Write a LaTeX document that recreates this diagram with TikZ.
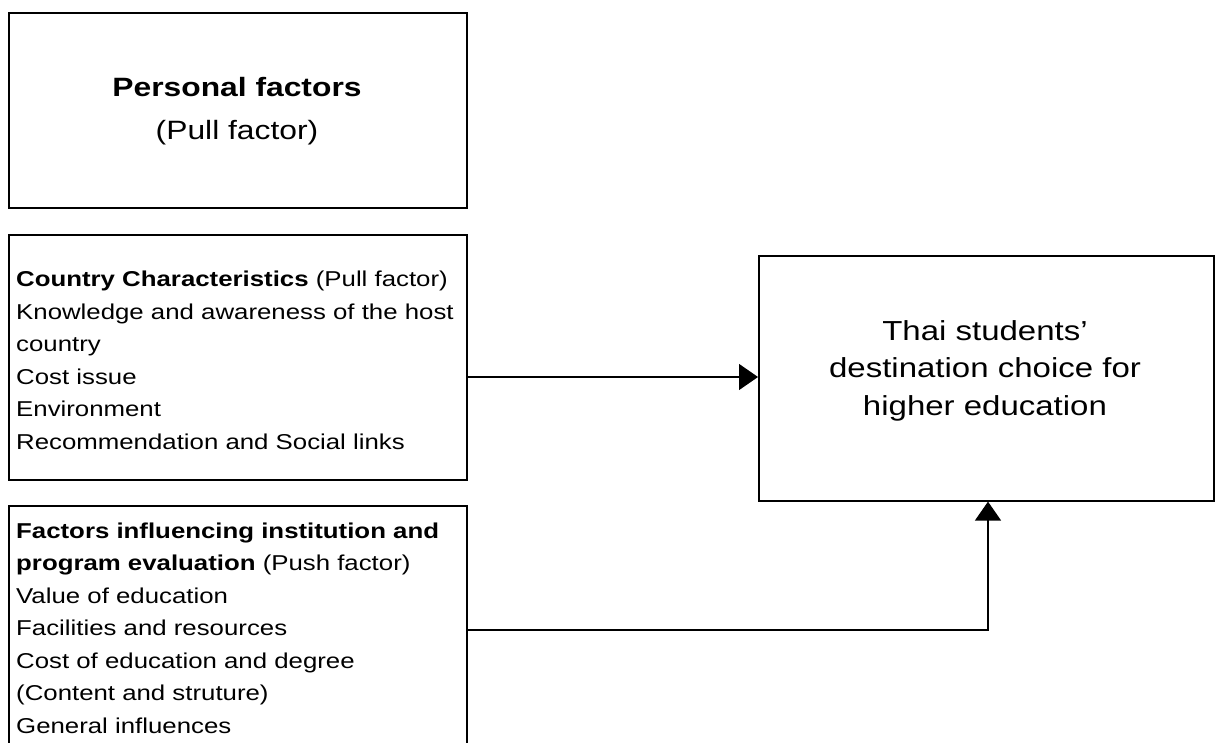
\documentclass[tikz,border=0pt]{standalone}
\usepackage{fontspec}
\setmainfont{Liberation Sans}
\usetikzlibrary{arrows.meta,calc}
\newcommand{\wl}[1]{\scalebox{1.2}[1]{#1}}
\begin{document}
\begin{tikzpicture}[x=1pt,y=-1pt,
  box/.style={draw,line width=1.6pt,inner sep=0pt,anchor=north west},
  txt/.style={inner sep=0pt},
  conn/.style={line width=1.4pt,-{Triangle[width=26pt,length=19pt]}}]
\clip (0,0) rectangle (1216,743);
\fill[white] (0,0) rectangle (1216,743);
% boxes
\node[box,minimum width=458pt,minimum height=195pt] (b1) at (8,12) {};
\node[box,minimum width=458pt,minimum height=245pt] (b2) at (8,234) {};
\node[box,minimum width=458pt,minimum height=300pt] (b3) at (8,505) {};
\node[box,minimum width=455pt,minimum height=245pt] (goal) at (758,255) {};
% texts
\node[txt,anchor=base,align=center,font=\fontsize{26.5}{43}\selectfont] (t1) at (237,140)
  {\textbf{\wl{Personal factors}}\\\wl{(Pull factor)}};
\node[txt,anchor=base west,align=left,font=\fontsize{21.5}{32.5}\selectfont] (t2) at (16,449)
  {\wl{\textbf{Country Characteristics} (Pull factor)}\\
   \wl{Knowledge and awareness of the host}\\
   \wl{country}\\
   \wl{Cost issue}\\
   \wl{Environment}\\
   \wl{Recommendation and Social links}};
\node[txt,anchor=base west,align=left,font=\fontsize{21.5}{32.5}\selectfont] (t3) at (16,733)
  {\wl{\textbf{Factors influencing institution and}}\\
   \wl{\textbf{program evaluation} (Push factor)}\\
   \wl{Value of education}\\
   \wl{Facilities and resources}\\
   \wl{Cost of education and degree}\\
   \wl{(Content and struture)}\\
   \wl{General influences}};
\node[txt,anchor=base,align=center,font=\fontsize{27.5}{37.5}\selectfont] (t4) at (985,415)
  {\wl{Thai students'}\\\wl{destination choice for}\\\wl{higher education}};
% connectors
\coordinate (c1) at (0,377);
\coordinate (c2) at (988,630);
\draw[conn] (b2.east |- c1) -- (goal.west |- c1);
\draw[conn] (b3.east |- c2) -| (goal.south -| c2);
\end{tikzpicture}
\end{document}
